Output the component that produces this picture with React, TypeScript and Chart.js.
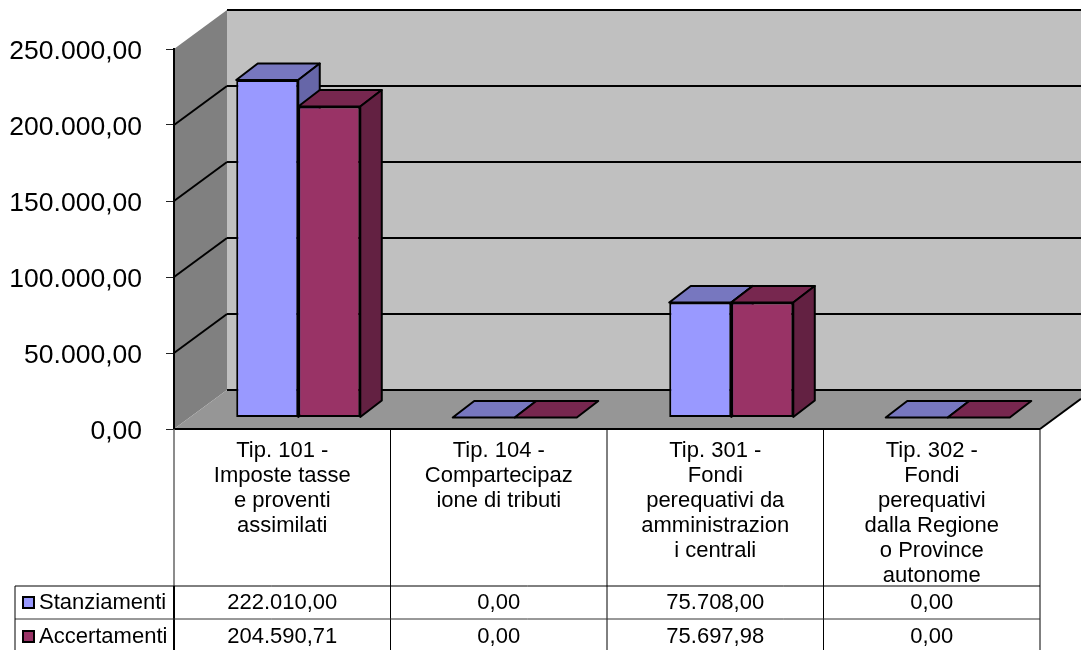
import React, { useEffect, useRef } from "react";
import { Chart, registerables } from "chart.js";

Chart.register(...registerables);

const categories: string[][] = [
  ["Tip. 101 -", "Imposte tasse", "e proventi", "assimilati"],
  ["Tip. 104 -", "Compartecipaz", "ione di tributi"],
  ["Tip. 301 -", "Fondi", "perequativi da", "amministrazion", "i centrali"],
  ["Tip. 302 -", "Fondi", "perequativi", "dalla Regione", "o Province", "autonome"],
];
const stanziamenti = [222010.0, 0, 75708.0, 0];
const accertamenti = [204590.71, 0, 75697.98, 0];
const seriesNames = ["Stanziamenti", "Accertamenti"];
const frontColors = ["#9999FF", "#993366"];
const topColors = ["#7777BF", "#77274F"];
const sideColors = ["#6666A8", "#632142"];

const FONT = '"Liberation Sans", Arial, sans-serif';
const WALL = { dx: 53, dy: -39 };
const BAR_SHIFT = { dx: 16, dy: -11.5 };
const BAR_DEPTH = { dx: 21.5, dy: -16.5 };

function fmt(v: number): string {
  const [a, b] = v.toFixed(2).split(".");
  return a.replace(/\B(?=(\d{3})+(?!\d))/g, ".") + "," + b;
}

function poly(ctx: CanvasRenderingContext2D, pts: number[][], fill?: string, stroke?: string, lw = 2) {
  ctx.beginPath();
  pts.forEach((p, i) => (i ? ctx.lineTo(p[0], p[1]) : ctx.moveTo(p[0], p[1])));
  ctx.closePath();
  if (fill) {
    ctx.fillStyle = fill;
    ctx.fill();
  }
  if (stroke) {
    ctx.strokeStyle = stroke;
    ctx.lineWidth = lw;
    ctx.lineJoin = "round";
    ctx.stroke();
  }
}

function line(ctx: CanvasRenderingContext2D, x1: number, y1: number, x2: number, y2: number, color = "#000", lw = 2) {
  ctx.beginPath();
  ctx.moveTo(x1, y1);
  ctx.lineTo(x2, y2);
  ctx.strokeStyle = color;
  ctx.lineWidth = lw;
  ctx.stroke();
}

const walls3d = {
  id: "walls3d",
  beforeDraw(chart: any) {
    const { ctx, chartArea: a, scales } = chart;
    const y = scales.y;
    const W = chart.width;
    // the reference's value labels sit slightly below their tick marks
    y.getLabelItems(a).forEach((item: any) => {
      if (!item.__shifted) {
        item.options.translation[1] += 2.5;
        item.__shifted = true;
      }
    });
    ctx.save();
    const { dx, dy } = WALL;
    poly(ctx, [[a.left + dx, a.top + dy], [W, a.top + dy], [W, a.bottom + dy], [a.left + dx, a.bottom + dy]], "#C0C0C0");
    poly(ctx, [[a.left, a.top], [a.left + dx, a.top + dy], [a.left + dx, a.bottom + dy], [a.left, a.bottom]], "#808080");
    const rightCut = (W - a.right) / dx;
    poly(ctx, [[a.left, a.bottom], [a.left + dx, a.bottom + dy], [W, a.bottom + dy], [W, a.bottom + dy * rightCut], [a.right, a.bottom]], "#969696");
    y.ticks.forEach((t: any) => {
      const py = y.getPixelForValue(t.value);
      line(ctx, a.left + dx, py + dy, W, py + dy);
      if (t.value > 0 && t.value < y.max) line(ctx, a.left, py, a.left + dx, py + dy);
    });
    line(ctx, a.right, a.bottom, W, a.bottom + dy * rightCut);
    ctx.restore();
  },
  // Left series first, so that the right-hand bar covers its neighbour's side face.
  beforeDatasetsDraw(chart: any) {
    const { ctx } = chart;
    const { dx, dy } = BAR_DEPTH;
    [0, 1].forEach((i) => {
      const meta = chart.getDatasetMeta(i);
      ctx.save();
      ctx.translate(BAR_SHIFT.dx, BAR_SHIFT.dy);
      meta.data.forEach((el: any) => {
        const { x, y, base, width } = el.getProps(["x", "y", "base", "width"], true);
        const l = x - width / 2;
        const r = x + width / 2;
        poly(ctx, [[l, y], [l + dx, y + dy], [r + dx, y + dy], [r, y]], topColors[i], "#000");
        if (base - y > 0.5) {
          poly(ctx, [[r, y], [r + dx, y + dy], [r + dx, base + dy], [r, base]], sideColors[i], "#000");
        }
      });
      meta.controller.draw();
      ctx.restore();
    });
    return false;
  },
  afterDraw(chart: any) {
    const { ctx, chartArea: a, scales } = chart;
    const x = scales.x;
    const H = chart.height;
    const row1 = 586;
    const row2 = 619;
    const tableLeft = 15;
    const step = (a.right - a.left) / categories.length;
    ctx.save();
    line(ctx, a.left, a.bottom, a.right, a.bottom);
    for (let c = 0; c <= categories.length; c++) {
      const px = a.left + c * step;
      line(ctx, px, a.bottom, px, row1, c === 0 ? "#666" : "#000", c === 0 ? 1.5 : 1);
      line(ctx, px, row1, px, H, "#000", c === 0 ? 2 : 1);
    }
    line(ctx, tableLeft, row1, a.right, row1, "#000", 1);
    line(ctx, tableLeft, row2, a.right, row2, "#333", 1);
    line(ctx, tableLeft, row1, tableLeft, H, "#000", 1);
    ctx.font = `22px ${FONT}`;
    ctx.textBaseline = "middle";
    const rowY = [602.5, 636.5];
    [stanziamenti, accertamenti].forEach((vals, r) => {
      ctx.textAlign = "center";
      ctx.fillStyle = "#000";
      vals.forEach((v, c) => ctx.fillText(fmt(v), x.getPixelForValue(c), rowY[r]));
      ctx.textAlign = "left";
      ctx.fillText(seriesNames[r], 39, rowY[r]);
      ctx.fillStyle = frontColors[r];
      ctx.strokeStyle = "#000";
      ctx.lineWidth = 2;
      ctx.fillRect(23, rowY[r] - 5.5, 11, 11);
      ctx.strokeRect(23, rowY[r] - 5.5, 11, 11);
    });
    ctx.restore();
  },
};

export default function App() {
  const ref = useRef<HTMLCanvasElement>(null);
  useEffect(() => {
    document.body.style.margin = "0";
    const dataset = (i: number, data: number[]) => ({
      label: seriesNames[i],
      data,
      backgroundColor: frontColors[i],
      borderColor: "#000",
      borderWidth: 2,
      borderSkipped: false as const,
      categoryPercentage: 0.573,
      barPercentage: 1,
      clip: false as const,
    });
    const chart = new Chart(ref.current!, {
      type: "bar",
      data: {
        labels: categories,
        datasets: [dataset(0, stanziamenti), dataset(1, accertamenti)],
      },
      options: {
        animation: false,
        responsive: false,
        devicePixelRatio: 1,
        layout: { padding: { top: 49, right: 41, left: 0, bottom: 0 } },
        plugins: { legend: { display: false }, tooltip: { enabled: false }, title: { display: false } },
        scales: {
          x: {
            grid: { display: false, drawTicks: false },
            border: { display: false },
            ticks: {
              autoSkip: false,
              maxRotation: 0,
              minRotation: 0,
              padding: 9,
              color: "#000",
              font: { family: FONT, size: 22, lineHeight: 25 / 22 },
            },
            afterFit(s: any) {
              s.height = 221;
            },
          },
          y: {
            min: 0,
            max: 250000,
            grid: { drawOnChartArea: false, drawTicks: true, tickLength: 8, color: "#222", lineWidth: 1 },
            border: { display: true, color: "#000", width: 2 },
            ticks: {
              stepSize: 50000,
              padding: 24,
              color: "#000",
              font: { family: FONT, size: 26.5 },
              callback: (v: any) => fmt(Number(v)),
            },
            afterFit(s: any) {
              s.width = 174;
            },
          },
        },
      },
      plugins: [walls3d],
    } as any);
    return () => chart.destroy();
  }, []);
  return <canvas ref={ref} width={1081} height={650} style={{ display: "block", width: 1081, height: 650 }} />;
}
